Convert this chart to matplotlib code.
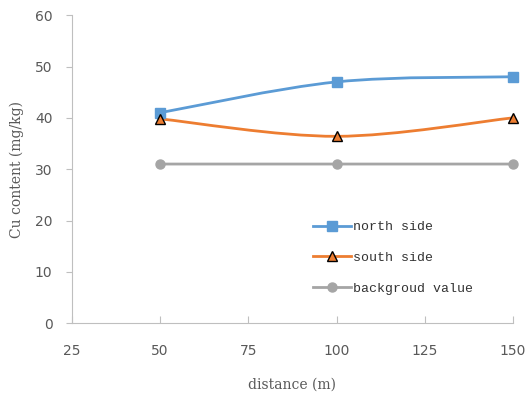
import matplotlib
matplotlib.use('Agg')
import matplotlib.pyplot as plt
from matplotlib.path import Path
from matplotlib.patches import PathPatch
from matplotlib.lines import Line2D

distance = [50, 100, 150]
north_side = [41, 47, 48]
south_side = [39.8, 36.4, 40]
background = [31, 31, 31]
x_ticks = [25, 50, 75, 100, 125, 150]
y_ticks = [0, 10, 20, 30, 40, 50, 60]


def smooth_path(xs, ys):
    """Bezier path through the points, like a spreadsheet smoothed line."""
    pts = list(zip(xs, ys))
    verts = [pts[0]]
    codes = [Path.MOVETO]
    n = len(pts)
    for i in range(n - 1):
        p0 = pts[max(i - 1, 0)]
        p1 = pts[i]
        p2 = pts[i + 1]
        p3 = pts[min(i + 2, n - 1)]
        c1 = (p1[0] + (p2[0] - p0[0]) / 6, p1[1] + (p2[1] - p0[1]) / 6)
        c2 = (p2[0] - (p3[0] - p1[0]) / 6, p2[1] - (p3[1] - p1[1]) / 6)
        verts += [c1, c2, p2]
        codes += [Path.CURVE4] * 3
    return Path(verts, codes)


fig = plt.figure(figsize=(5.25, 3.99), dpi=100)
ax = fig.add_axes([0.137, 0.19, 0.84, 0.772])

series = [
    (north_side, '#5b9bd5', 's', '#5b9bd5', 'north side'),
    (south_side, '#ed7d31', '^', 'black', 'south side'),
    (background, '#a5a5a5', 'o', '#a5a5a5', 'backgroud value'),
]
handles = []
for values, color, marker, edge, label in series:
    ax.add_patch(PathPatch(smooth_path(distance, values), fill=False,
                           edgecolor=color, lw=2, zorder=2))
    ax.plot(distance, values, ls='none', marker=marker, ms=6.5,
            markerfacecolor=color, markeredgecolor=edge, mew=1, zorder=3,
            clip_on=False)
    handles.append(Line2D([], [], color=color, lw=2, marker=marker, ms=6.5,
                          markerfacecolor=color, markeredgecolor=edge, mew=1))

ax.set_xlim(25, 150)
ax.set_ylim(0, 60)
ax.set_xticks(x_ticks)
ax.set_yticks(y_ticks)

for side in ['top', 'right']:
    ax.spines[side].set_visible(False)
for side in ['left', 'bottom']:
    ax.spines[side].set_color('#bfbfbf')
ax.tick_params(axis='x', direction='in', length=5, color='#bfbfbf',
               labelcolor='#595959', labelsize=10, pad=15)
ax.tick_params(axis='y', direction='out', length=4, color='#bfbfbf',
               labelcolor='#595959', labelsize=10, pad=10)

ax.set_xlabel('distance (m)', family='DejaVu Serif', fontsize=10,
              color='#595959', labelpad=14)
ax.set_ylabel('Cu content (mg/kg)', family='DejaVu Serif', fontsize=10,
              color='#595959', labelpad=8)

leg = ax.legend(handles=handles, labels=[s[4] for s in series],
                loc='upper left', bbox_to_anchor=(0.52, 0.37), frameon=False,
                prop={'family': 'Liberation Mono', 'size': 9.5},
                handlelength=2.9, handletextpad=0.1, labelspacing=1.4)
for text in leg.get_texts():
    text.set_color('#333333')

fig.savefig('out.png', dpi=100)
